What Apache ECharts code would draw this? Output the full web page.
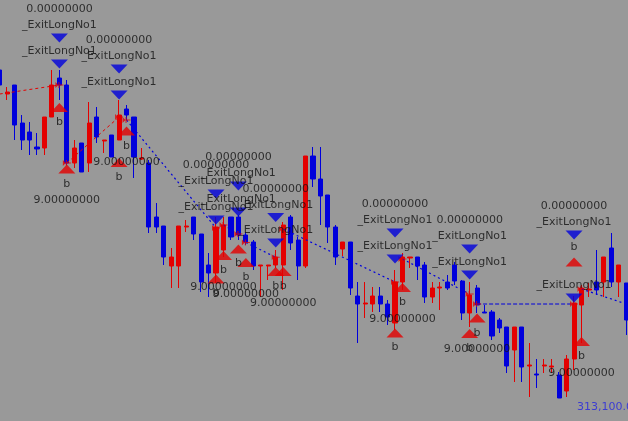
<!DOCTYPE html>
<html><head><meta charset="utf-8">
<script src="https://cdn.jsdelivr.net/npm/echarts@6/dist/echarts.min.js"></script>
<style>html,body{margin:0;padding:0;background:#999999;overflow:hidden;width:628px;height:421px;position:relative;}
#c{position:absolute;left:-4px;top:0;width:634px;height:421px;}</style>
</head><body><div id="c"></div>
<script>
// OHLC values (price units), one entry per bar
const opens  = [316500,316260,316350,315970,315880,315730,315720,316030,316420,316350,315570,315770,315570,316030,315790,315850,315800,316110,316030,315610,315570,315030,314940,314540,314540,314930,315030,314860,314550,314470,314700,315030,315030,314850,314780,314540,314540,314550,314550,315030,314800,314540,315640,315410,315250,314930,314710,314780,314240,314160,314160,314240,314160,313970,314380,314620,314630,314550,314230,314320,314380,314550,314390,314070,314320,314080,314080,314000,313930,313700,313930,313540,313460,313540,313530,313450,313290,313610,314150,314300,314380,314380,314720,314380,314370];
const closes = [316350,316280,315950,315800,315800,315710,316030,316350,316350,315570,315720,315480,315970,315830,315800,315630,316050,316050,315630,315620,314930,314930,314630,314630,314940,314940,314860,314380,314470,314930,314950,314830,314850,314780,314540,314550,314550,314630,314950,314770,314540,315640,315410,315240,314930,314630,314780,314320,314160,314170,314240,314160,314030,314380,314630,314630,314540,314230,314320,314330,314320,314390,314070,314250,314150,314070,313840,313920,313540,313930,313530,313550,313450,313550,313540,313220,313610,314170,314320,314310,314300,314630,314380,314550,314000];
const lows   = [316320,316200,315800,315700,315650,315650,315650,316030,316200,315550,315520,315480,315480,315770,315670,315630,315800,316000,315420,315600,314870,314870,314550,314320,314320,314880,314800,314280,314230,314370,314630,314800,314800,314750,314500,314230,314400,314520,314300,314700,314400,314520,315330,314950,314770,314550,314640,314250,313770,314020,314080,314080,313950,313900,314300,314520,314400,314170,314170,314100,314300,314350,314000,313930,314070,314070,313800,313870,313470,313380,313380,313230,313320,313470,313470,313220,313230,313500,313770,314230,314250,314230,314330,314230,313850];
const highs  = [316550,316330,316350,316050,315980,315870,316030,316500,316500,316400,315800,315770,316180,316130,315800,315850,316200,316150,316030,315720,315600,315170,314940,314720,314940,315000,315030,314860,314670,315030,315030,315030,315050,314880,314800,314550,314550,314700,314980,315050,314830,315640,315730,315730,315250,314950,314780,314780,314380,314380,314330,314330,314200,314500,314670,314630,314630,314580,314380,314380,314450,314580,314400,314380,314350,314150,314100,314020,313930,313930,313930,313770,313610,313610,313610,313480,313650,314240,314350,314370,314700,314630,314870,314550,314370];
const categories = opens.map((_, i) => String(i + 1));

// Exit signals (_ExitLongNo1): bar index and price of the marker
const exitUpperIdx   = [8, 16, 29, 32, 37, 53, 63, 77];
const exitUpperPrice = [316820, 316510, 315260, 315340, 315025, 314870, 314710, 314850];
const exitLowerIdx   = [8, 16, 29, 32, 37, 53, 63, 77];
const exitLowerPrice = [316560, 316250, 315000, 315080, 314770, 314610, 314450, 314220];
// Entry signals (b)
const entryIdx   = [8, 16, 29, 32, 37, 53, 63];
const entryPrice = [316125, 315575, 314410, 314710, 314485, 313870, 313865];
const entryAboveIdx   = [77];
const entryAbovePrice = [314580];
const entryQtyIdx   = [9, 17, 30, 33, 38, 54, 64, 78];
const entryQtyPrice = [315510, 315890, 314645, 314575, 314485, 314325, 314020, 313785];
const exitText = '_ExitLongNo1';
const zeroText = '0.00000000';
const qtyText = '9.00000000';
const entryText = 'b';
// Trade connection lines: [startIdx, startPrice, endIdx, endPrice, kind]
const trades = [
  [0, 316260, 8, 316350, 'win'],
  [9, 315570, 16, 316030, 'win'],
  [17, 316000, 29, 314920, 'loss'],
  [30, 314950, 32, 314860, 'loss'],
  [33, 314775, 37, 314627, 'loss'],
  [38, 314910, 53, 314380, 'loss'],
  [54, 314610, 63, 314260, 'loss'],
  [64, 314160, 77, 314160, 'flat'],
  [78, 314310, 84, 314160, 'loss']
];
const priceLabel = '313,100.0';

const RED = '#e40000', BLUE = '#0000dc', TXT = '#101010';
const FONT = 'DejaVu Sans';
const downTri = 'path://M0,0L16,0L8,9Z';
const upTri = 'path://M8,0L16,9L0,9Z';
const flag = 'path://M0,0L3,3L0,6Z M3,0L4,0L4,6L3,6Z M4,2.5L8,2.5L8,3.5L4,3.5Z';
const pairs = (idx, pr) => idx.map((v, i) => [v, pr[i]]);
const lbl = (extra) => Object.assign({show: true, fontFamily: FONT, fontSize: 11, color: TXT, lineHeight: 16}, extra);

const series = [{
  type: 'candlestick', z: 2, barWidth: 4.6,
  data: opens.map((o, i) => [o, closes[i], lows[i], highs[i]]),
  itemStyle: {color: RED, color0: BLUE, borderColor: RED, borderColor0: BLUE, borderWidth: 1}
}];
const flagPts = [];
trades.forEach(t => {
  const style = t[4] === 'win' ? {color: RED, type: [3, 3], width: 1}
    : t[4] === 'flat' ? {color: BLUE, type: [4, 2], width: 1}
    : {color: BLUE, type: [2, 3], width: 1.2};
  series.push({type: 'line', z: 3, symbol: 'none', silent: true, lineStyle: style,
    data: [[t[0], t[1]], [t[2], t[3]]]});
  if (t[0] > 0) flagPts.push([t[0], t[1]]);
  if (t[2] < 84) flagPts.push([t[2], t[3]]);
});
series.push({type: 'scatter', z: 3, symbol: flag, symbolSize: [8, 6], itemStyle: {color: RED},
  silent: true, data: flagPts});
series.push({type: 'scatter', z: 4, symbol: downTri, symbolSize: [17, 9], itemStyle: {color: BLUE},
  data: pairs(exitUpperIdx, exitUpperPrice),
  label: lbl({position: 'top', distance: 0, formatter: zeroText + '\n' + exitText})});
series.push({type: 'scatter', z: 4, symbol: downTri, symbolSize: [17, 9], itemStyle: {color: BLUE},
  data: pairs(exitLowerIdx, exitLowerPrice),
  label: lbl({position: 'top', distance: 0, formatter: exitText})});
series.push({type: 'scatter', z: 4, symbol: upTri, symbolSize: [17, 9], itemStyle: {color: RED},
  data: pairs(entryIdx, entryPrice),
  label: lbl({position: 'bottom', distance: 2, formatter: entryText})});
series.push({type: 'scatter', z: 4, symbol: upTri, symbolSize: [17, 9], itemStyle: {color: RED},
  data: pairs(entryAboveIdx, entryAbovePrice),
  label: lbl({position: 'top', distance: 2, formatter: entryText})});
series.push({type: 'scatter', z: 4, symbol: upTri, symbolSize: [17, 9], itemStyle: {color: RED},
  data: pairs(entryQtyIdx, entryQtyPrice),
  label: lbl({position: 'bottom', distance: 2, lineHeight: 16.5, formatter: entryText + '\n' + qtyText})});

const chart = echarts.init(document.getElementById('c'), null, {renderer: 'canvas'});
chart.setOption({
  backgroundColor: '#999999',
  animation: false,
  grid: {left: 0, right: 0, top: 0, bottom: 0},
  xAxis: {type: 'category', data: categories, boundaryGap: true, show: false},
  yAxis: {type: 'value', min: 312990, max: 317200, show: false, splitLine: {show: false}},
  graphic: [{type: 'text', left: 581, top: 402, silent: true,
    style: {text: priceLabel, fill: '#3c3cd2', font: '11px "DejaVu Sans"'}}],
  series: series
});
</script></body></html>
